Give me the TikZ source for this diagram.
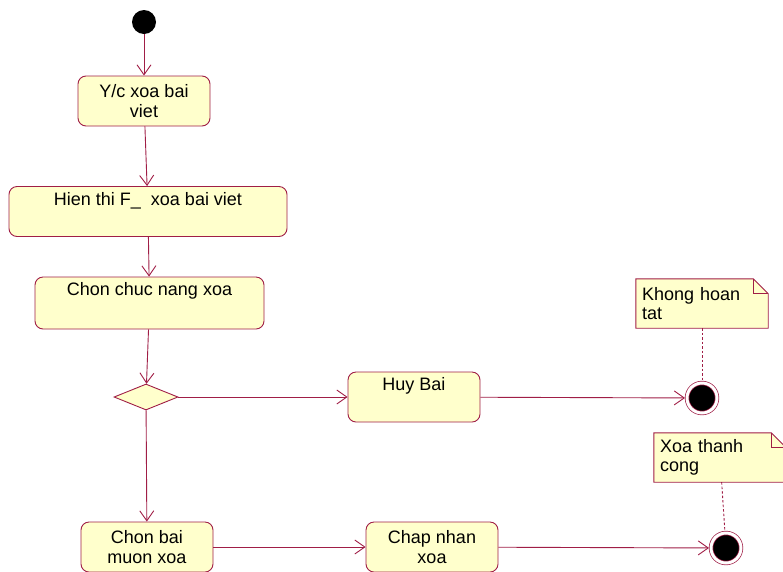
\documentclass[tikz,border=0pt]{standalone}
\usepackage{fontspec}
\setmainfont{Liberation Sans}
\usetikzlibrary{shapes.geometric, arrows.meta, backgrounds}
\definecolor{roseline}{RGB}{160,30,70}
\definecolor{rosefill}{RGB}{255,255,204}
\tikzset{
  activity/.style={draw=roseline, fill=rosefill, rounded corners=8pt, line width=0.9pt, align=center, minimum width=132pt, minimum height=50pt, inner sep=2pt},
  onerow/.style={inner ysep=0pt, text height=18pt, text depth=#1},
  decision/.style={diamond, draw=roseline, fill=rosefill, line width=0.9pt, minimum width=64pt, minimum height=26pt, inner sep=0pt, aspect=2.5},
  startnode/.style={circle, fill=black, minimum size=24pt, inner sep=0pt},
  endnode/.style={circle, fill=black, draw=roseline, double=white, double distance=3pt, line width=0.7pt, minimum size=30pt, inner sep=0pt, outer sep=2pt},
  note/.style={minimum width=132pt, minimum height=49pt, text width=120pt, inner xsep=6pt, align=left},
  notebox/.style={draw=roseline, fill=rosefill, line width=0.9pt},
  flow/.style={draw=roseline, line width=0.9pt, -{Straight Barb[length=10pt, width=14pt]}},
  noteline/.style={draw=roseline, line width=0.9pt, dash pattern=on 2.5pt off 2pt}
}
\begin{document}
\begin{tikzpicture}[x=1pt, y=-1pt, font=\fontsize{18}{19.5}\selectfont]
\useasboundingbox (0,0) rectangle (783,571);

%activities
\node[startnode] (start) at (144,22) {};
\node[activity] (yc) at (144,101) {Y/c xoa bai\\viet};
\node[activity, minimum width=278pt, onerow=31pt] (hienthi) at (148,211.5) {Hien thi F\_\ \ xoa bai viet};
\node[activity, minimum width=229pt, onerow=34pt] (chonchuc) at (149.5,303) {Chon chuc nang xoa};
\node[decision] (re) at (146,397) {};
\node[activity, onerow=32pt] (huy) at (414,397) {Huy Bai};
\node[activity] (chonbai) at (147,547) {Chon bai\\muon xoa};
\node[activity] (chapnhan) at (432,547) {Chap nhan\\xoa};
\node[endnode] (end1) at (702,398) {};
\node[endnode] (end2) at (726,548) {};

%notes
\node[note] (khong) at (702,303.5) {Khong hoan\\tat};
\node[note] (xoa) at (720,457.5) {Xoa thanh\\cong};
\begin{scope}[on background layer]
\foreach \n in {khong, xoa} {
  \filldraw[notebox] (\n.north west) -- ([xshift=-15pt]\n.north east) -- ([yshift=-15pt]\n.north east) -- (\n.south east) -- (\n.south west) -- cycle;
  \draw[notebox, fill=none] ([xshift=-15pt]\n.north east) |- ([yshift=-15pt]\n.north east);
}
\end{scope}

%transitions
\draw[flow] (start) -- (yc);
\draw[flow] (yc) -- (hienthi);
\draw[flow] (hienthi) -- (chonchuc);
\draw[flow] (chonchuc) -- (re);
\draw[flow] (re) -- (huy);
\draw[flow] (re) -- (chonbai);
\draw[flow] (huy) -- (end1);
\draw[flow] (chonbai) -- (chapnhan);
\draw[flow] (chapnhan) -- (end2);
\draw[noteline] (khong) -- (end1);
\draw[noteline] (xoa) -- (end2);

\end{tikzpicture}
\end{document}
